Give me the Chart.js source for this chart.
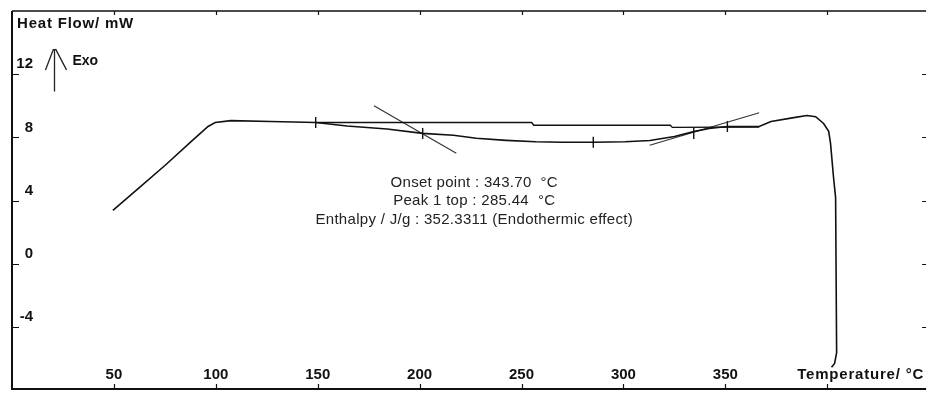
<!DOCTYPE html>
<html>
<head>
<meta charset="utf-8">
<script src="https://cdn.jsdelivr.net/npm/chart.js@4.4.1/dist/chart.umd.min.js"></script>
<style>
html, body { margin: 0; padding: 0; background: #fff; overflow: hidden; }
canvas { display: block; width: 100vw; height: 100vh; }
</style>
</head>
<body>
<canvas id="myChart" width="933" height="397"></canvas>
<script>

// measured DSC curve (temperature / heat flow)
const curveTemp = [49.5, 63.6, 75.3, 88.0, 96.2, 99.7, 107.4, 127, 149, 164.4, 184, 201.5, 216.6, 227.8, 242.4, 257, 270, 285.2, 300.8, 313, 325, 335, 342, 351, 366.6, 372.4, 383.6, 390, 394.3, 398.2, 400.7, 401.6, 403.1, 404.1, 404.6, 403.6, 402.1];
const curveHeat = [3.38, 4.94, 6.25, 7.75, 8.69, 8.94, 9.06, 9.0, 8.94, 8.72, 8.53, 8.25, 8.13, 7.94, 7.81, 7.72, 7.69, 7.69, 7.72, 7.8, 8.06, 8.38, 8.56, 8.69, 8.69, 9.0, 9.25, 9.38, 9.31, 8.88, 8.38, 7.63, 5.44, 4.19, -5.63, -6.31, -6.56];

// integration baseline
const baseTemp = [149, 255, 256, 323, 324, 366.6];
const baseHeat = [8.94, 8.94, 8.77, 8.77, 8.63, 8.66];

// tangents used for onset
const tangent1Temp = [177.6, 218];
const tangent1Heat = [10.0, 7.0];
const tangent2Temp = [312.9, 366.6];
const tangent2Heat = [7.5, 9.56];

// small vertical marks on the curve
const markTemp = [149, 201.5, 285.2, 334.5, 351];
const markHeat = [8.94, 8.25, 7.69, 8.25, 8.69];

// axes
const xTicks = [50, 100, 150, 200, 250, 300, 350, 400];
const xTickLabels = ["50", "100", "150", "200", "250", "300", "350", ""];
const yTicks = [12, 8, 4, 0, -4];
const yTickLabels = ["12", "8", "4", "0", "-4"];
const xTitle = "Temperature/ \u00B0C";
const yTitle = "Heat Flow/ mW";

// annotation
const infoLines = [
    "Onset point : 343.70  \u00B0C",
    "Peak 1 top : 285.44  \u00B0C",
    "Enthalpy / J/g : 352.3311 (Endothermic effect)"
];
const infoAt = [226.8, 5.12];
const exoArrow = { t: 20.7, from: 10.9, to: 13.6 };
const exoLabel = "Exo";

function pts(xs, ys) {
    return xs.map((x, i) => ({ x: x, y: ys[i] }));
}

const FONT = "'Liberation Sans', Arial, sans-serif";

const dscPlugin = {
    id: 'dscFrame',
    afterDraw(chart) {
        const ctx = chart.ctx;
        const ca = chart.chartArea;
        const xs = chart.scales.x;
        const ys = chart.scales.y;

        ctx.save();
        ctx.strokeStyle = '#111';

        // frame
        ctx.lineWidth = 2;
        ctx.beginPath();
        ctx.moveTo(ca.left, ca.top);
        ctx.lineTo(ca.left, ca.bottom);
        ctx.moveTo(ca.left, ca.bottom - 1);
        ctx.lineTo(ca.right, ca.bottom - 1);
        ctx.stroke();
        ctx.lineWidth = 1.5;
        ctx.beginPath();
        ctx.moveTo(ca.left, ca.top);
        ctx.lineTo(ca.right, ca.top);
        ctx.stroke();

        // tick marks
        ctx.lineWidth = 1.2;
        ctx.beginPath();
        xTicks.forEach(v => {
            const px = Math.round(xs.getPixelForValue(v)) + 0.5;
            ctx.moveTo(px, ca.top);
            ctx.lineTo(px, ca.top + 4);
            ctx.moveTo(px, ca.bottom - 1);
            ctx.lineTo(px, ca.bottom - 6);
        });
        yTicks.forEach(v => {
            const py = Math.round(ys.getPixelForValue(v)) + 0.5;
            ctx.moveTo(ca.left, py);
            ctx.lineTo(ca.left + 7, py);
            ctx.moveTo(ca.right - 4, py);
            ctx.lineTo(ca.right, py);
        });
        ctx.stroke();

        // tick labels
        ctx.fillStyle = '#111';
        ctx.font = 'bold 15px ' + FONT;
        ctx.textBaseline = 'middle';
        ctx.textAlign = 'center';
        xTicks.forEach((v, i) => {
            ctx.fillText(xTickLabels[i], xs.getPixelForValue(v), ca.bottom - 15);
        });
        ctx.textAlign = 'right';
        yTicks.forEach((v, i) => {
            ctx.fillText(yTickLabels[i], ca.left + 21, ys.getPixelForValue(v) - 10);
        });

        // axis titles
        ctx.letterSpacing = '0.8px';
        ctx.textAlign = 'right';
        ctx.fillText(xTitle, ca.right - 2, ca.bottom - 15);
        ctx.textAlign = 'left';
        ctx.fillText(yTitle, ca.left + 5, ca.top + 13);
        ctx.letterSpacing = '0px';

        // exo arrow
        const ax = Math.round(xs.getPixelForValue(exoArrow.t)) + 0.5;
        const aTop = ys.getPixelForValue(exoArrow.to);
        const aBot = ys.getPixelForValue(exoArrow.from);
        ctx.lineWidth = 1.3;
        ctx.strokeStyle = '#222';
        ctx.beginPath();
        ctx.moveTo(ax, aBot);
        ctx.lineTo(ax, aTop);
        ctx.moveTo(ax - 9, aTop + 21);
        ctx.lineTo(ax - 1, aTop);
        ctx.moveTo(ax + 1, aTop);
        ctx.lineTo(ax + 12, aTop + 21);
        ctx.stroke();
        ctx.font = 'bold 14px ' + FONT;
        ctx.textAlign = 'left';
        ctx.fillText(exoLabel, ax + 18, aTop + 12);

        // result text
        ctx.font = '15px ' + FONT;
        ctx.letterSpacing = '0.3px';
        ctx.fillStyle = '#222';
        ctx.textAlign = 'center';
        const cx = xs.getPixelForValue(infoAt[0]);
        const cy = ys.getPixelForValue(infoAt[1]);
        infoLines.forEach((line, i) => {
            ctx.fillText(line, cx, cy + i * 18.5);
        });

        ctx.restore();
    }
};

const lineStyle = { showLine: true, pointRadius: 0, fill: false, tension: 0 };

new Chart(document.getElementById('myChart'), {
    type: 'scatter',
    data: {
        datasets: [
            Object.assign({ label: 'DSC', data: pts(curveTemp, curveHeat), borderColor: '#111', borderWidth: 1.6 }, lineStyle),
            Object.assign({ label: 'Baseline', data: pts(baseTemp, baseHeat), borderColor: '#111', borderWidth: 1.4 }, lineStyle),
            Object.assign({ label: 'Tangent 1', data: pts(tangent1Temp, tangent1Heat), borderColor: '#333', borderWidth: 1.2 }, lineStyle),
            Object.assign({ label: 'Tangent 2', data: pts(tangent2Temp, tangent2Heat), borderColor: '#333', borderWidth: 1.2 }, lineStyle),
            {
                label: 'Marks',
                data: pts(markTemp, markHeat),
                showLine: false,
                pointStyle: 'line',
                rotation: 90,
                pointRadius: 5.5,
                borderColor: '#111',
                borderWidth: 1.4
            }
        ]
    },
    options: {
        responsive: false,
        animation: false,
        layout: { padding: { left: 12, top: 11, right: 0, bottom: 2 } },
        plugins: {
            legend: { display: false },
            tooltip: { enabled: false }
        },
        scales: {
            x: { type: 'linear', min: 0, max: 448.5, display: false },
            y: { type: 'linear', min: -8, max: 16, display: false }
        }
    },
    plugins: [dscPlugin]
});

</script>
</body>
</html>
